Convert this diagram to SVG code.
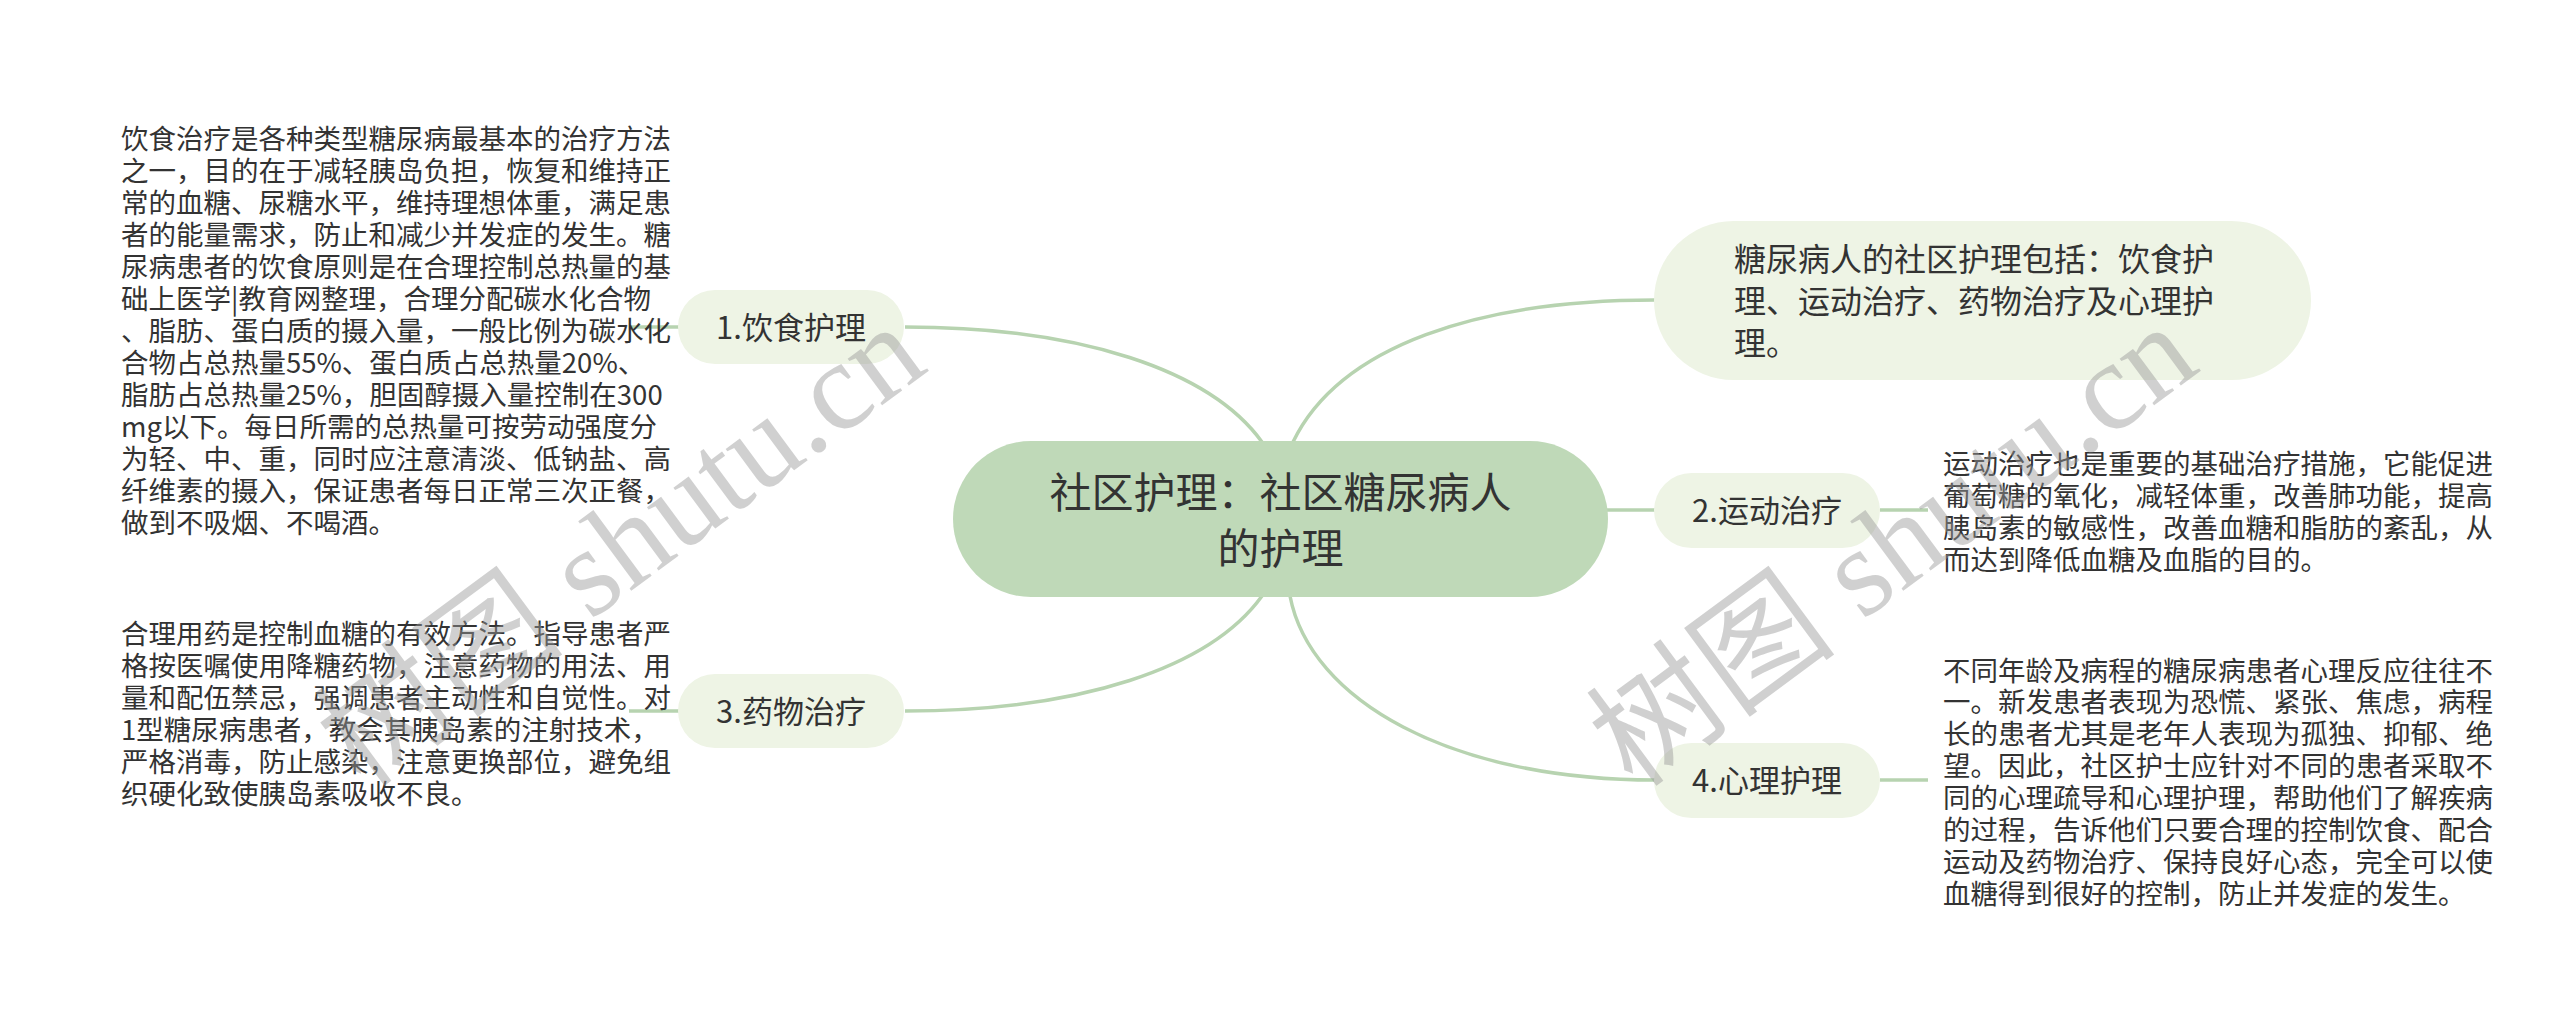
<svg xmlns="http://www.w3.org/2000/svg" width="2560" height="1028" viewBox="0 0 2560 1028">
<style>
.txt{font-family:"Noto Sans CJK SC","Noto Sans",sans-serif;fill:#333333}
.body{font-size:27.5px}
.lbl{font-size:31px;text-anchor:middle}
.conn{fill:none;stroke:#b7d3b0;stroke-width:3.5}
.child{fill:#eef4e5}
.wm{font-family:"Liberation Serif","Noto Sans CJK SC",serif;font-size:126px;fill:#999999;opacity:0.45}
</style>
<rect width="2560" height="1028" fill="#ffffff"/>
<g id="connectors">
<path class="conn" d="M1262,442 C1210,370 1080,327 905,327"/>
<path class="conn" d="M1262,596 C1210,668 1080,711 905,711"/>
<path class="conn" d="M1293,442 C1340,345 1480,300 1655,300"/>
<path class="conn" d="M1606,510 L1655,510"/>
<path class="conn" d="M1290,596 C1310,700 1450,780 1655,780"/>
<path class="conn" d="M629,327 L679,327"/>
<path class="conn" d="M629,711 L679,711"/>
<path class="conn" d="M1880,510 L1928,510"/>
<path class="conn" d="M1880,780 L1928,780"/>
</g>
<g id="root">
<rect x="953" y="441" width="655" height="156" rx="78" fill="#bfd9b8"/>
<text class="txt" font-size="42" text-anchor="middle"><tspan x="1280.5" y="508">社区护理：社区糖尿病人</tspan><tspan x="1280.5" y="564">的护理</tspan></text>
</g>
<g id="summary">
<rect class="child" x="1654" y="221" width="657" height="159" rx="79.5"/>
<text class="txt" font-size="32"><tspan x="1734" y="270.5">糖尿病人的社区护理包括：饮食护</tspan><tspan x="1734" y="312.5">理、运动治疗、药物治疗及心理护</tspan><tspan x="1734" y="354.5">理。</tspan></text>
</g>
<g id="node1">
<rect class="child" x="678" y="290" width="226" height="74" rx="37"/>
<text class="txt lbl" x="791" y="338.5">1.饮食护理</text>
</g>
<g id="node2">
<rect class="child" x="1654" y="473" width="226" height="75" rx="37.5"/>
<text class="txt lbl" x="1767" y="521.5">2.运动治疗</text>
</g>
<g id="node3">
<rect class="child" x="678" y="674" width="226" height="74" rx="37"/>
<text class="txt lbl" x="791" y="722.5">3.药物治疗</text>
</g>
<g id="node4">
<rect class="child" x="1654" y="743" width="226" height="75" rx="37.5"/>
<text class="txt lbl" x="1767" y="791.5">4.心理护理</text>
</g>
<g id="leaf1">
<text class="txt body"><tspan x="121" y="148.5">饮食治疗是各种类型糖尿病最基本的治疗方法</tspan><tspan x="121" dy="32.07">之一，目的在于减轻胰岛负担，恢复和维持正</tspan><tspan x="121" dy="32.07">常的血糖、尿糖水平，维持理想体重，满足患</tspan><tspan x="121" dy="32.07">者的能量需求，防止和减少并发症的发生。糖</tspan><tspan x="121" dy="32.07">尿病患者的饮食原则是在合理控制总热量的基</tspan><tspan x="121" dy="32.07">础上医学|教育网整理，合理分配碳水化合物</tspan><tspan x="121" dy="32.07">、脂肪、蛋白质的摄入量，一般比例为碳水化</tspan><tspan x="121" dy="32.07">合物占总热量55%、蛋白质占总热量20%、</tspan><tspan x="121" dy="32.07">脂肪占总热量25%，胆固醇摄入量控制在300</tspan><tspan x="121" dy="32.07">mg以下。每日所需的总热量可按劳动强度分</tspan><tspan x="121" dy="32.07">为轻、中、重，同时应注意清淡、低钠盐、高</tspan><tspan x="121" dy="32.07">纤维素的摄入，保证患者每日正常三次正餐，</tspan><tspan x="121" dy="32.07">做到不吸烟、不喝酒。</tspan></text>
</g>
<g id="leaf3">
<text class="txt body"><tspan x="121" y="643.5">合理用药是控制血糖的有效方法。指导患者严</tspan><tspan x="121" dy="32.07">格按医嘱使用降糖药物，注意药物的用法、用</tspan><tspan x="121" dy="32.07">量和配伍禁忌，强调患者主动性和自觉性。对</tspan><tspan x="121" dy="32.07">1型糖尿病患者，教会其胰岛素的注射技术，</tspan><tspan x="121" dy="32.07">严格消毒，防止感染，注意更换部位，避免组</tspan><tspan x="121" dy="32.07">织硬化致使胰岛素吸收不良。</tspan></text>
</g>
<g id="leaf2">
<text class="txt body"><tspan x="1943" y="474">运动治疗也是重要的基础治疗措施，它能促进</tspan><tspan x="1943" dy="31.9">葡萄糖的氧化，减轻体重，改善肺功能，提高</tspan><tspan x="1943" dy="31.9">胰岛素的敏感性，改善血糖和脂肪的紊乱，从</tspan><tspan x="1943" dy="31.9">而达到降低血糖及血脂的目的。</tspan></text>
</g>
<g id="leaf4">
<text class="txt body"><tspan x="1943" y="680.5">不同年龄及病程的糖尿病患者心理反应往往不</tspan><tspan x="1943" dy="31.9">一。新发患者表现为恐慌、紧张、焦虑，病程</tspan><tspan x="1943" dy="31.9">长的患者尤其是老年人表现为孤独、抑郁、绝</tspan><tspan x="1943" dy="31.9">望。因此，社区护士应针对不同的患者采取不</tspan><tspan x="1943" dy="31.9">同的心理疏导和心理护理，帮助他们了解疾病</tspan><tspan x="1943" dy="31.9">的过程，告诉他们只要合理的控制饮食、配合</tspan><tspan x="1943" dy="31.9">运动及药物治疗、保持良好心态，完全可以使</tspan><tspan x="1943" dy="31.9">血糖得到很好的控制，防止并发症的发生。</tspan></text>
</g>
<g id="watermark">
<text class="wm" transform="translate(362,790) rotate(-36.5)">树图 shutu.cn</text>
<text class="wm" transform="translate(1634,790) rotate(-36.5)">树图 shutu.cn</text>
</g>
</svg>
